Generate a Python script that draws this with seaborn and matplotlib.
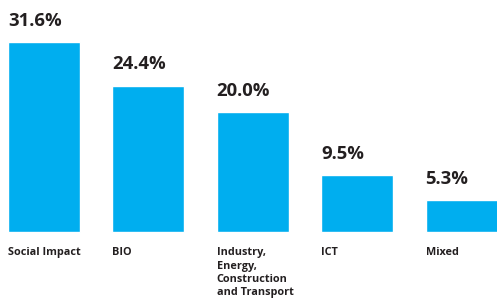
import matplotlib
matplotlib.use('Agg')
import matplotlib.pyplot as plt
import seaborn as sns
import pandas as pd

# data
categories = ['Social Impact', 'BIO', 'Industry,\nEnergy,\nConstruction\nand Transport', 'ICT', 'Mixed']
shares = [31.6, 24.4, 20.0, 9.5, 5.3]
value_labels = ['31.6%', '24.4%', '20.0%', '9.5%', '5.3%']

BAR_COLOR = '#00AEEF'
TEXT_COLOR = '#231F20'

sns.set_theme(style='white')
plt.rcParams['font.family'] = ['Open Sans', 'DejaVu Sans']

df = pd.DataFrame({'category': categories, 'share': shares})

fig = plt.figure(figsize=(4.97, 3.04), dpi=100)
ax = fig.add_axes([0, 0, 1, 1])
bar_w = 0.69
sns.barplot(data=df, x='category', y='share', color=BAR_COLOR, width=bar_w,
            saturation=1, ax=ax)

ax.set_xlim(-0.421, 4.339)
ax.set_ylim(-12, 38.67)
ax.axis('off')

for i, (val, lab, cat) in enumerate(zip(shares, value_labels, categories)):
    left = i - bar_w / 2
    ax.annotate(lab, (left, val), xytext=(0, 9), textcoords='offset points',
                ha='left', va='bottom', fontsize=13.3, fontweight='bold', color=TEXT_COLOR)
    ax.annotate(cat, (left, 0), xytext=(0, -11), textcoords='offset points',
                ha='left', va='top', fontsize=7.8, fontweight='bold', color=TEXT_COLOR,
                linespacing=1.3)

fig.savefig('out.png', dpi=100, facecolor='white')
